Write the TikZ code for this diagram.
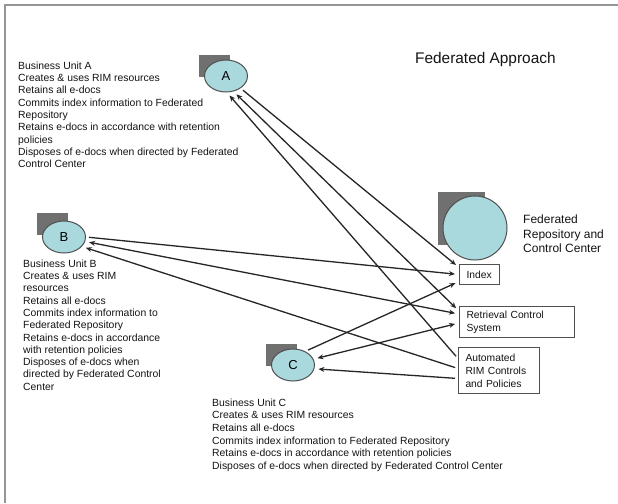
\documentclass[tikz,border=0pt]{standalone}
\usepackage{fontspec}
\setmainfont{Liberation Sans}
\usetikzlibrary{arrows.meta,shapes.geometric}
\definecolor{sqgray}{RGB}{112,112,112}
\definecolor{ellcyan}{RGB}{170,217,221}
\definecolor{edgegray}{RGB}{80,80,80}
\definecolor{framegray}{RGB}{150,150,150}
\begin{document}
\begin{tikzpicture}[x=1pt,y=-1pt,
  txt/.style={anchor=north west, inner sep=0pt, align=left, text=black!92,
    font=\fontsize{10.4}{12.3}\selectfont},
  unit/.style={ellipse, draw=edgegray, line width=1pt, fill=ellcyan,
    minimum width=43, minimum height=32, inner sep=0pt,
    font=\fontsize{13}{14}\selectfont},
  sysbox/.style={draw=edgegray, line width=1pt, fill=white, anchor=north west,
    align=left, inner xsep=7pt, inner ysep=0pt, text=black!92,
    font=\fontsize{10.3}{13}\selectfont},
  arr/.style={draw=black!85, line width=1.3pt, -{Stealth[length=6pt,width=5pt]},
    shorten >=4pt, shorten <=3pt},
  darr/.style={draw=black!85, line width=1.3pt,
    {Stealth[length=6pt,width=5pt]}-{Stealth[length=6pt,width=5pt]},
    shorten >=4pt, shorten <=4pt}
]
\useasboundingbox (0,0) rectangle (618,503);
\fill[white] (0,0) rectangle (618,503);
\draw[framegray, line width=1.4pt] (5,503) -- (5,5) -- (618,5);

% title
\node[anchor=north west, inner sep=0pt, text=black!92,
  font=\fontsize{15.4}{18}\selectfont] (title) at (415,52) {Federated Approach};

% gray squares behind the ellipses
\fill[sqgray] (199,55) rectangle +(31,22);
\fill[sqgray] (37,213) rectangle +(31,22);
\fill[sqgray] (266,344) rectangle +(31,22);
\fill[sqgray] (438,192) rectangle +(47,53);

% business units
\node[unit] (A) at (226,76) {A};
\node[unit] (B) at (64,237) {B};
\node[unit] (C) at (293,365) {C};

% federated repository
\node[circle, draw=edgegray, line width=1pt, fill=ellcyan, minimum size=64,
  inner sep=0pt] (F) at (475,228) {};
\node[anchor=north west, inner sep=0pt, align=left, text=black!92,
  font=\fontsize{12}{14.5}\selectfont] (Flabel) at (523,215)
  {Federated\\Repository and\\Control Center};

% system boxes
\node[sysbox, text width=26pt, minimum height=20pt] (Index) at (459,264) {Index};
\node[sysbox, text width=101pt, minimum height=31pt] (Ret) at (459,306)
  {Retrieval Control\\System};
\node[sysbox, text width=67pt, minimum height=46pt] (Auto) at (458,347)
  {Automated\\RIM Controls\\and Policies};

% unit texts
\node[txt] (Atext) at (18,61.5) {Business Unit A\\Creates \& uses RIM resources\\Retains all e-docs\\Commits index information to Federated\\Repository\\Retains e-docs in accordance with retention\\policies\\Disposes of e-docs when directed by Federated\\Control Center};
\node[txt] (Btext) at (23,259.5) {Business Unit B\\Creates \& uses RIM\\resources\\Retains all e-docs\\Commits index information to\\Federated Repository\\Retains e-docs in accordance\\with retention policies\\Disposes of e-docs when\\directed by Federated Control\\Center};
\node[txt, font=\fontsize{10.4}{12.6}\selectfont] (Ctext) at (212,398.5) {Business Unit C\\Creates \& uses RIM resources\\Retains all e-docs\\Commits index information to Federated Repository\\Retains e-docs in accordance with retention policies\\Disposes of e-docs when directed by Federated Control Center};

% connectors: units to index
\draw[arr] (A.-40) -- ([yshift=7pt]Index.west);
\draw[arr] (B.east) -- ([yshift=0pt]Index.west);
\draw[arr] (C.48) -- ([yshift=-7pt]Index.west);
% retrieval control system <-> units
\draw[darr] (A.-64) -- ([yshift=11pt]Ret.west);
\draw[darr] (B.-12) -- ([yshift=8pt]Ret.west);
\draw[darr] (C.16) -- ([yshift=-1pt]Ret.west);
% automated controls to units
\draw[arr] ([yshift=12pt]Auto.west) -- (A.-87);
\draw[arr] ([yshift=2pt]Auto.west) -- (B.-28);
\draw[arr] ([yshift=-8pt]Auto.west) -- (C.-10);
\end{tikzpicture}
\end{document}
